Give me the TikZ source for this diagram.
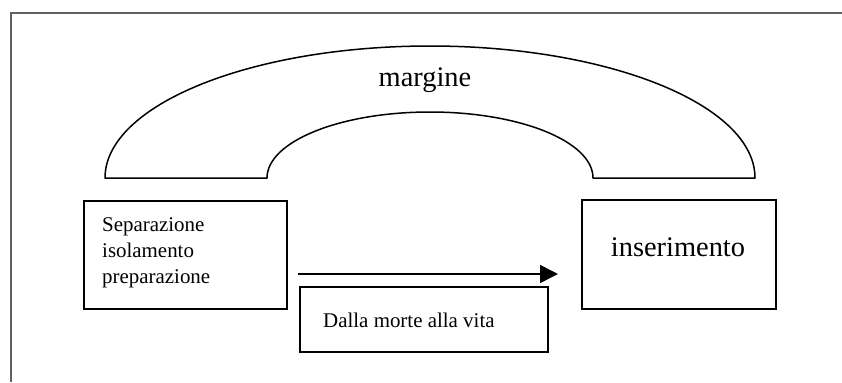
\documentclass[tikz,border=0pt]{standalone}
\usepackage{fontspec}
\setmainfont{Liberation Serif}
\usetikzlibrary{arrows.meta}
\begin{document}
\begin{tikzpicture}[x=1bp,y=-1bp,
  shape line/.style={line width=1.5bp,black},
  stagebox/.style={draw,line width=1.5bp,rectangle,inner sep=0pt,anchor=north west},
  smalltext/.style={inner sep=0pt,font=\fontsize{21}{26}\selectfont},
  bigtext/.style={inner sep=0pt,font=\fontsize{28.5}{34}\selectfont},
  framecol/.style={draw=black!62,line width=1.3bp}]
  \useasboundingbox (0,0) rectangle (842,382);

  % outer frame (open on the right and bottom)
  \draw[framecol] (11,382) -- (11,13) -- (842,13);

  % arch for the liminal phase
  \draw[shape line,line join=round]
    (105,178) arc[start angle=180,end angle=360,x radius=325,y radius=132]
    -- (593,178)
    arc[start angle=0,end angle=-180,x radius=163,y radius=66]
    -- cycle;
  \node[bigtext,anchor=base] (margine) at (425,86) {margine};

  % stage boxes
  \node[stagebox,minimum width=203bp,minimum height=108bp] (sep) at (83,200) {};
  \node[smalltext,anchor=base west] (sepA) at (102,231) {Separazione};
  \node[smalltext,anchor=base west] (sepB) at (102,257) {isolamento};
  \node[smalltext,anchor=base west] (sepC) at (102,283) {preparazione};

  \node[stagebox,minimum width=194bp,minimum height=109bp] (ins) at (581,199) {};
  \node[bigtext,anchor=base] (insT) at (678,256) {inserimento};

  \node[stagebox,minimum width=248bp,minimum height=65bp] (dalla) at (299,286) {};
  \node[smalltext,anchor=base west] (dallaT) at (323,327) {Dalla morte alla vita};

  % transition arrow
  \coordinate (arrA) at (298,274);
  \coordinate (arrB) at (558,274);
  \draw[line width=1.6bp,-{Triangle[length=18bp,width=18bp]}] (arrA) -- (arrB);
\end{tikzpicture}
\end{document}
